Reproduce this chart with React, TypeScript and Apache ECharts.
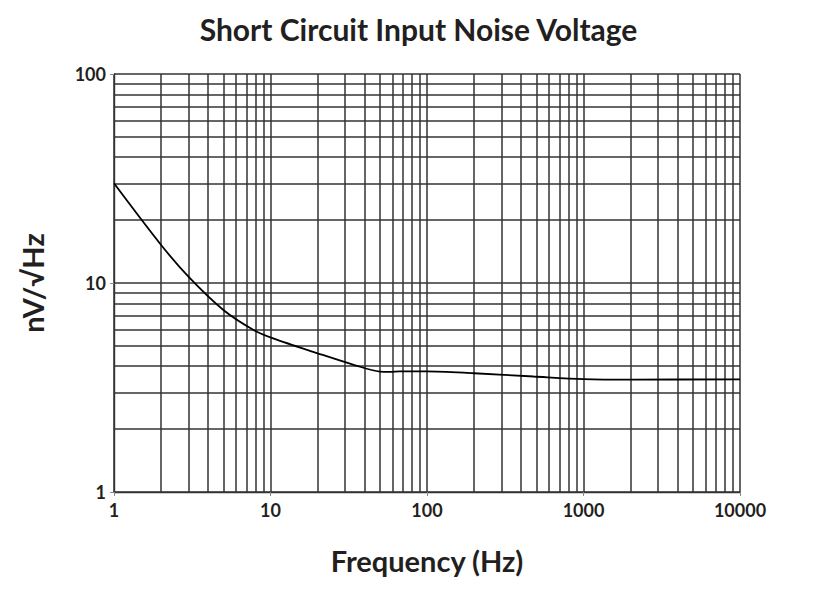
import React, { useEffect, useRef } from "react";
import * as echarts from "echarts";

const frequency = [1, 2, 3, 5, 7.8, 10.4, 20, 34, 50, 58, 67, 99, 200, 480, 1000, 2080, 10000];
const noise = [30, 15.2, 10.7, 7.43, 5.96, 5.43, 4.61, 4.06, 3.77, 3.76, 3.78, 3.78, 3.7, 3.57, 3.47, 3.45, 3.46];

const xDecades = [1, 10, 100, 1000];
const yDecades = [1, 10];
const mantissas = [2, 3, 4, 5, 6, 7, 8, 9];

const title = "Short Circuit Input Noise Voltage";
const xName = "Frequency (Hz)";
const yName = "nV/\u221AHz";

const GRID = "#333333";
const TEXT = "#231f20";
const FONT = "Lato, 'Open Sans', sans-serif";

export default function App() {
  const ref = useRef<HTMLDivElement>(null);
  useEffect(() => {
    if (!ref.current) return;
    const chart = echarts.init(ref.current, undefined, { renderer: "svg" });
    const xMinor: number[] = [];
    xDecades.forEach((d) => mantissas.forEach((m) => xMinor.push(d * m)));
    const yMinor: number[] = [];
    yDecades.forEach((d) => mantissas.forEach((m) => yMinor.push(d * m)));

    const markData: any[] = [
      ...xMinor.map((v) => ({ xAxis: v })),
      ...yMinor.map((v) => ({ yAxis: v })),
    ];

    chart.setOption({
      animation: false,
      backgroundColor: "#ffffff",
      title: {
        text: title,
        left: "center",
        top: 9,
        textStyle: { fontFamily: FONT, fontWeight: "bold", fontSize: 30, color: TEXT },
      },
      grid: { left: 114, right: 97, top: 74, bottom: 111 },
      xAxis: {
        type: "log",
        logBase: 10,
        min: 1,
        max: 10000,
        name: xName,
        nameLocation: "middle",
        nameGap: 54,
        nameTextStyle: { fontFamily: FONT, fontWeight: "bold", fontSize: 29, color: TEXT },
        axisLine: { show: true, lineStyle: { color: GRID, width: 1.4 } },
        axisTick: { show: true, length: 4, lineStyle: { color: "#888888" } },
        axisLabel: {
          fontFamily: FONT,
          fontWeight: "bold",
          fontSize: 18,
          color: TEXT,
          margin: 9,
          formatter: (v: number) => String(Math.round(v)),
        },
        splitLine: { show: true, lineStyle: { color: GRID, width: 1.5 } },
      },
      yAxis: {
        type: "log",
        logBase: 10,
        min: 1,
        max: 100,
        name: yName,
        nameLocation: "middle",
        nameGap: 67,
        nameRotate: 90,
        nameTextStyle: { fontFamily: FONT, fontWeight: "bold", fontSize: 29, color: TEXT },
        axisLine: { show: true, lineStyle: { color: GRID, width: 1.4 } },
        axisTick: { show: true, length: 4, lineStyle: { color: "#888888" } },
        axisLabel: {
          fontFamily: FONT,
          fontWeight: "bold",
          fontSize: 18,
          color: TEXT,
          margin: 8,
          formatter: (v: number) => String(Math.round(v)),
        },
        splitLine: { show: true, lineStyle: { color: GRID, width: 1.5 } },
      },
      series: [
        {
          type: "line",
          data: frequency.map((f, i) => [f, noise[i]]),
          smooth: 0.3,
          showSymbol: false,
          lineStyle: { color: "#000000", width: 1.8 },
          silent: true,
          z: 5,
          markLine: {
            silent: true,
            symbol: ["none", "none"],
            label: { show: false },
            lineStyle: { color: GRID, width: 1.5, type: "solid" },
            data: markData,
            z: 1,
          },
        },
      ],
    });
    return () => chart.dispose();
  }, []);
  return (
    <div
      ref={ref}
      style={{ position: "absolute", left: 0, top: 0, width: 837, height: 603 }}
    />
  );
}
